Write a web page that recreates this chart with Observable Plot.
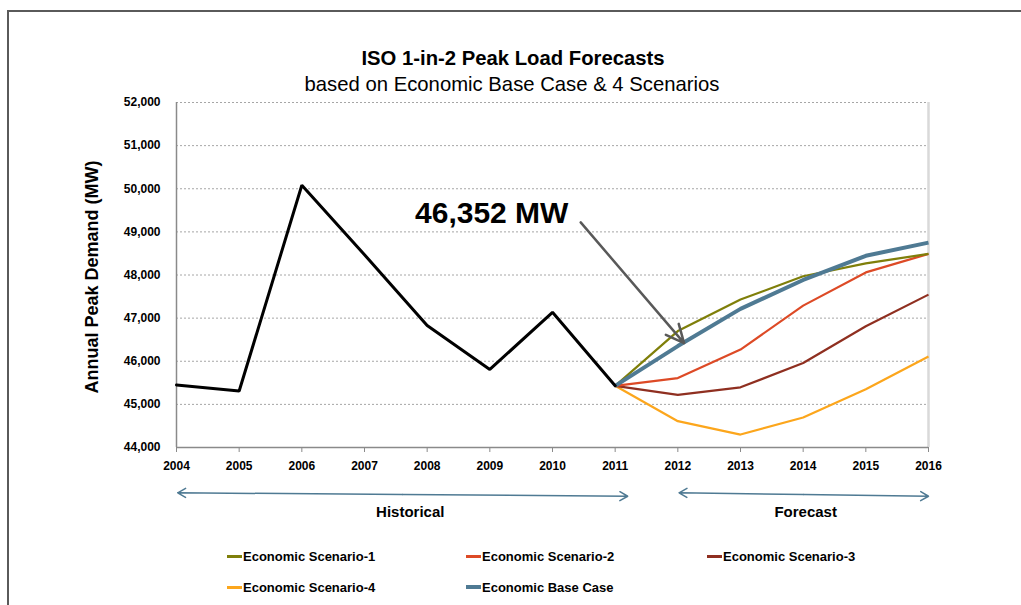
<!DOCTYPE html>
<html>
<head>
<meta charset="utf-8">
<script src="https://cdn.jsdelivr.net/npm/d3@7"></script>
<script src="https://cdn.jsdelivr.net/npm/@observablehq/plot@0.6"></script>
<style>
  html, body { margin: 0; padding: 0; background: #fff; }
  #wrap { position: relative; width: 1021px; height: 605px; overflow: hidden; font-family: "Liberation Sans", Arial, sans-serif; }
  #frame { position: absolute; left: 7px; top: 10px; width: 1100px; height: 700px; border-left: 2px solid #5a5a5a; border-top: 2px solid #5a5a5a; }
  #chart { position: absolute; left: 0; top: 0; }
  #title { position: absolute; left: 0; width: 1026px; text-align: center; top: 47px; font-size: 20.3px; font-weight: bold; color: #000; }
  #subtitle { position: absolute; left: 0; width: 1024px; text-align: center; top: 73px; font-size: 20.3px; color: #000; }
  .leg { position: absolute; display: flex; align-items: center; font-size: 13px; font-weight: bold; color: #000; white-space: nowrap; }
  .sw { width: 15px; height: 3px; margin-right: 1px; }
</style>
</head>
<body>
<div id="wrap">
  <div id="frame"></div>
  <div id="chart"></div>
  <div id="title">ISO 1-in-2 Peak Load Forecasts</div>
  <div id="subtitle">based on Economic Base Case &amp; 4 Scenarios</div>
  <div id="legend"></div>
</div>
<script>
// ---- data ----
const histYears = [2004, 2005, 2006, 2007, 2008, 2009, 2010, 2011];
const histValues = [45450, 45310, 50080, 48470, 46830, 45810, 47135, 45430];
const forecastYears = [2011, 2012, 2013, 2014, 2015, 2016];
const scenario1 = [45430, 46700, 47430, 47970, 48270, 48490];
const scenario2 = [45430, 45610, 46270, 47290, 48060, 48490];
const scenario3 = [45430, 45220, 45395, 45960, 46810, 47545];
const scenario4 = [45430, 44610, 44300, 44695, 45350, 46110];
const baseCase = [45430, 46352, 47215, 47885, 48445, 48750];
const xTicks = [2004, 2005, 2006, 2007, 2008, 2009, 2010, 2011, 2012, 2013, 2014, 2015, 2016];
const yTicks = [44000, 45000, 46000, 47000, 48000, 49000, 50000, 51000, 52000];
const seriesNames = ["Economic Scenario-1", "Economic Scenario-2", "Economic Scenario-3", "Economic Scenario-4", "Economic Base Case"];
const seriesColors = ["#7f7f0a", "#dd4a26", "#8f2f20", "#fca61c", "#4f7a93"];
const annotationText = "46,352 MW";
const periodLabels = ["Historical", "Forecast"];
const yAxisLabel = "Annual Peak Demand (MW)";

// ---- build tables ----
const hist = histYears.map((y, i) => ({year: y, value: histValues[i]}));
const seriesValues = [scenario1, scenario2, scenario3, scenario4, baseCase];
const fc = seriesValues.map((vals, k) => forecastYears.map((y, i) => ({year: y, value: vals[i], name: seriesNames[k]})));

// annotation geometry in data coordinates
const ann = {x1: 2010.45, y1: 49220, x2: 2012.1, y2: 46420};
const periods = [
  {name: periodLabels[0], x1: 2004.02, x2: 2011.2, yl: 42950, yr: 42870, lx: 2007.73},
  {name: periodLabels[1], x1: 2012.02, x2: 2016.0, yl: 42950, yr: 42870, lx: 2014.04}
];
const labelY = 42490;

const lineOpts = (k, w) => ({x: "year", y: "value", stroke: seriesColors[k], strokeWidth: w, strokeLinejoin: "miter", strokeLinecap: "butt"});

const chart = Plot.plot({
  width: 1021,
  height: 605,
  marginLeft: 176,
  marginRight: 93,
  marginTop: 102,
  marginBottom: 158,
  style: {fontFamily: "'Liberation Sans', Arial, sans-serif", fontSize: "12px", fontWeight: "bold", color: "#000", background: "transparent", overflow: "visible"},
  x: {domain: [2004, 2016], ticks: xTicks, tickFormat: d => String(d), label: null},
  y: {domain: [44000, 52000], ticks: yTicks, tickFormat: d3.format(","), label: null},
  marks: [
    Plot.gridY(yTicks.slice(1), {stroke: "#a6a6a6", strokeOpacity: 1, strokeDasharray: "2,2", strokeWidth: 1}),
    Plot.ruleX([2016], {stroke: "#d9d9d9", strokeWidth: 2.5}),
    Plot.axisX({ticks: xTicks, tickSize: 5, tickPadding: 9, stroke: "#8a8a8a", tickFormat: d => String(d), fontSize: 12, fontWeight: "bold"}),
    Plot.axisY({ticks: yTicks, tickSize: 0, tickPadding: 16, tickFormat: d3.format(","), fontSize: 12, fontWeight: "bold"}),
    Plot.ruleY([44000], {stroke: "#8a8a8a", strokeWidth: 1.5}),
    Plot.ruleX([2004], {stroke: "#8a8a8a", strokeWidth: 1.5}),
    Plot.line(fc[3], lineOpts(3, 2.2)),
    Plot.line(fc[2], lineOpts(2, 2.2)),
    Plot.line(fc[1], lineOpts(1, 2.2)),
    Plot.line(fc[0], lineOpts(0, 2.2)),
    Plot.line(fc[4], lineOpts(4, 4)),
    Plot.line(hist, {x: "year", y: "value", stroke: "#000", strokeWidth: 3, strokeLinejoin: "miter"}),
    Plot.arrow([ann], {x1: "x1", y1: "y1", x2: "x2", y2: "y2", stroke: "#595959", strokeWidth: 2.5, headLength: 12, headAngle: 50, bend: false}),
    Plot.text([annotationText], {x: 2009.03, y: 49430, text: d => d, fontSize: 30, fontWeight: "bold", fill: "#000"}),
    // double-headed period arrows: two single-headed arrows from the middle outward
    Plot.arrow(periods, {x1: d => (d.x1 + d.x2) / 2, y1: d => (d.yl + d.yr) / 2, x2: "x1", y2: "yl", stroke: "#4f7a93", strokeWidth: 1.5, headLength: 9, clip: false}),
    Plot.arrow(periods, {x1: d => (d.x1 + d.x2) / 2, y1: d => (d.yl + d.yr) / 2, x2: "x2", y2: "yr", stroke: "#4f7a93", strokeWidth: 1.5, headLength: 9, clip: false}),
    Plot.text(periods, {x: "lx", y: labelY, text: "name", fontSize: 15, fontWeight: "bold", fill: "#000"}),
    Plot.text([yAxisLabel], {frameAnchor: "left", textAnchor: "middle", dx: -84, dy: 2, rotate: -90, text: d => d, fontSize: 18, fontWeight: "bold", fill: "#000"})
  ]
});
document.getElementById("chart").appendChild(chart);

// ---- legend (HTML) ----
const legend = document.getElementById("legend");
const legPos = [[227, 556], [466, 556], [707, 556], [227, 587], [466, 587]];
seriesNames.forEach((n, k) => {
  const d = document.createElement("div");
  d.className = "leg";
  d.style.left = legPos[k][0] + "px";
  d.style.top = (legPos[k][1] - 8) + "px";
  d.style.height = "16px";
  const sw = document.createElement("span");
  sw.className = "sw";
  sw.style.background = seriesColors[k];
  sw.style.height = k === 4 ? "4px" : "3px";
  d.appendChild(sw);
  d.appendChild(document.createTextNode(n));
  legend.appendChild(d);
});
</script>
</body>
</html>
